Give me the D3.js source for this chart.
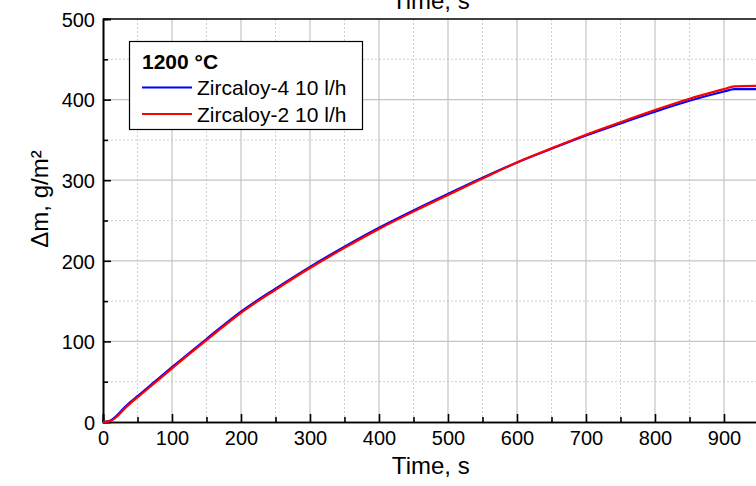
<!DOCTYPE html>
<html>
<head>
<meta charset="utf-8">
<script src="https://cdn.jsdelivr.net/npm/d3@7"></script>
<style>
  html, body { margin: 0; padding: 0; background: #fff; overflow: hidden; }
  svg { display: block; font-family: "Liberation Sans", Arial, sans-serif; }
</style>
</head>
<body>
<svg id="chart" width="756" height="486"></svg>
<script>
// Mass gain during oxidation at 1200 °C, two cladding alloys
const timeZr4 = [0, 10, 20, 30, 40, 50, 75, 100, 150, 200, 250, 300, 350, 400, 450, 500, 550, 600, 650, 700, 750, 800, 850, 900, 915, 950];
const gainZr4 = [0, 1.5, 8, 17, 25, 32, 50, 68, 103, 137, 165.5, 192.5, 217.5, 241, 262.5, 283, 303, 322, 339, 355.5, 370.5, 385, 398.5, 410, 413, 413];
const timeZr2 = [0, 10, 20, 30, 40, 50, 75, 100, 150, 200, 250, 300, 350, 400, 450, 500, 550, 600, 650, 700, 750, 800, 850, 900, 915, 950];
const gainZr2 = [0, 1, 6.5, 15.5, 23.5, 30.5, 48.5, 66.5, 101.5, 135.5, 164, 191, 216, 239.5, 261, 281.5, 302, 322, 339.5, 356.5, 372, 387, 401, 413, 416.5, 417];
const seriesNames = ["Zircaloy-4 10 l/h", "Zircaloy-2 10 l/h"];
const seriesColors = ["#0000ff", "#ff0000"];
const legendTitle = "1200 °C";
const xTicks = [0, 100, 200, 300, 400, 500, 600, 700, 800, 900];
const yTicks = [0, 100, 200, 300, 400, 500];
const xTitle = "Time, s";
const yTitle = "Δm, g/m²";

const svg = d3.select("#chart");
const plotLeft = 103, plotRight = 758.5, plotTop = 19, plotBottom = 422;

const x = d3.scaleLinear().domain([0, 950]).range([plotLeft, plotRight]);
const y = d3.scaleLinear().domain([0, 500]).range([plotBottom, plotTop]);

const xMinor = d3.range(50, 1000, 100);
const yMinor = d3.range(50, 500, 100);

// grid
const grid = svg.append("g");
grid.selectAll(".gxm").data(xMinor).join("line")
  .attr("x1", d => x(d)).attr("x2", d => x(d)).attr("y1", plotTop).attr("y2", plotBottom)
  .attr("stroke", "#cfcfcf").attr("stroke-width", 1).attr("stroke-dasharray", "2,2");
grid.selectAll(".gym").data(yMinor).join("line")
  .attr("y1", d => y(d)).attr("y2", d => y(d)).attr("x1", plotLeft).attr("x2", plotRight)
  .attr("stroke", "#cfcfcf").attr("stroke-width", 1).attr("stroke-dasharray", "2,2");
grid.selectAll(".gx").data(xTicks.filter(d => d > 0)).join("line")
  .attr("x1", d => x(d)).attr("x2", d => x(d)).attr("y1", plotTop).attr("y2", plotBottom)
  .attr("stroke", "#c4c4c4").attr("stroke-width", 1.2);
grid.selectAll(".gy").data(yTicks.filter(d => d > 0 && d < 500)).join("line")
  .attr("y1", d => y(d)).attr("y2", d => y(d)).attr("x1", plotLeft).attr("x2", plotRight)
  .attr("stroke", "#c4c4c4").attr("stroke-width", 1.2);

// axes (ticks pointing into the plot)
const xAxis = svg.append("g").attr("transform", `translate(0,${plotBottom})`)
  .call(d3.axisBottom(x).tickValues(xTicks).tickSize(-8).tickPadding(9).tickFormat(d3.format("d")));
const xAxisMinor = svg.append("g").attr("transform", `translate(0,${plotBottom})`)
  .call(d3.axisBottom(x).tickValues(xMinor).tickSize(-5).tickFormat(""));
const yAxis = svg.append("g").attr("transform", `translate(${plotLeft},0)`)
  .call(d3.axisLeft(y).tickValues(yTicks).tickSize(-8).tickPadding(8).tickFormat(d3.format("d")));
const yAxisMinor = svg.append("g").attr("transform", `translate(${plotLeft},0)`)
  .call(d3.axisLeft(y).tickValues(yMinor).tickSize(-5).tickFormat(""));

[xAxis, xAxisMinor, yAxis, yAxisMinor].forEach(g => {
  g.select(".domain").attr("stroke", "#000").attr("stroke-width", 1.6);
  g.selectAll(".tick line").attr("stroke", "#000").attr("stroke-width", 1.6);
  g.selectAll("text").attr("font-size", 20).attr("fill", "#000")
    .attr("font-family", "'Liberation Sans', Arial, sans-serif");
});
xAxis.selectAll("text").attr("dy", "0.71em");
yAxis.selectAll("text").attr("dy", "0.36em");

// top frame line
svg.append("line").attr("x1", plotLeft).attr("x2", plotRight).attr("y1", plotTop).attr("y2", plotTop)
  .attr("stroke", "#000").attr("stroke-width", 1.6);

// curves
const line = d3.line().x(d => x(d[0])).y(d => y(d[1])).curve(d3.curveMonotoneX);
const dataZr4 = timeZr4.map((t, i) => [t, gainZr4[i]]);
const dataZr2 = timeZr2.map((t, i) => [t, gainZr2[i]]);
svg.append("path").datum(dataZr4).attr("d", line)
  .attr("fill", "none").attr("stroke", seriesColors[0]).attr("stroke-width", 2.2);
svg.append("path").datum(dataZr2).attr("d", line)
  .attr("fill", "none").attr("stroke", seriesColors[1]).attr("stroke-width", 2.2);

// axis titles (bottom and top share the same title)
svg.append("text").attr("x", (plotLeft + plotRight) / 2).attr("y", 474)
  .attr("text-anchor", "middle").attr("font-size", 24).text(xTitle);
svg.append("text").attr("x", (plotLeft + plotRight) / 2).attr("y", 9)
  .attr("text-anchor", "middle").attr("font-size", 24).text(xTitle);
svg.append("text")
  .attr("transform", `translate(48,199) rotate(-90)`)
  .attr("text-anchor", "middle").attr("font-size", 24).text(yTitle);

// legend
const lg = svg.append("g");
lg.append("rect").attr("x", 129.5).attr("y", 41.5).attr("width", 233).attr("height", 88)
  .attr("fill", "#fff").attr("stroke", "#000").attr("stroke-width", 1.2);
lg.append("text").attr("x", 142).attr("y", 69).attr("font-size", 21)
  .attr("font-weight", "bold").text(legendTitle);
seriesNames.forEach((name, i) => {
  const yy = 87.5 + i * 26.5;
  lg.append("line").attr("x1", 142).attr("x2", 192).attr("y1", yy).attr("y2", yy)
    .attr("stroke", seriesColors[i]).attr("stroke-width", 2);
  lg.append("text").attr("x", 197).attr("y", yy + 7.5).attr("font-size", 21).text(name);
});
</script>
</body>
</html>
